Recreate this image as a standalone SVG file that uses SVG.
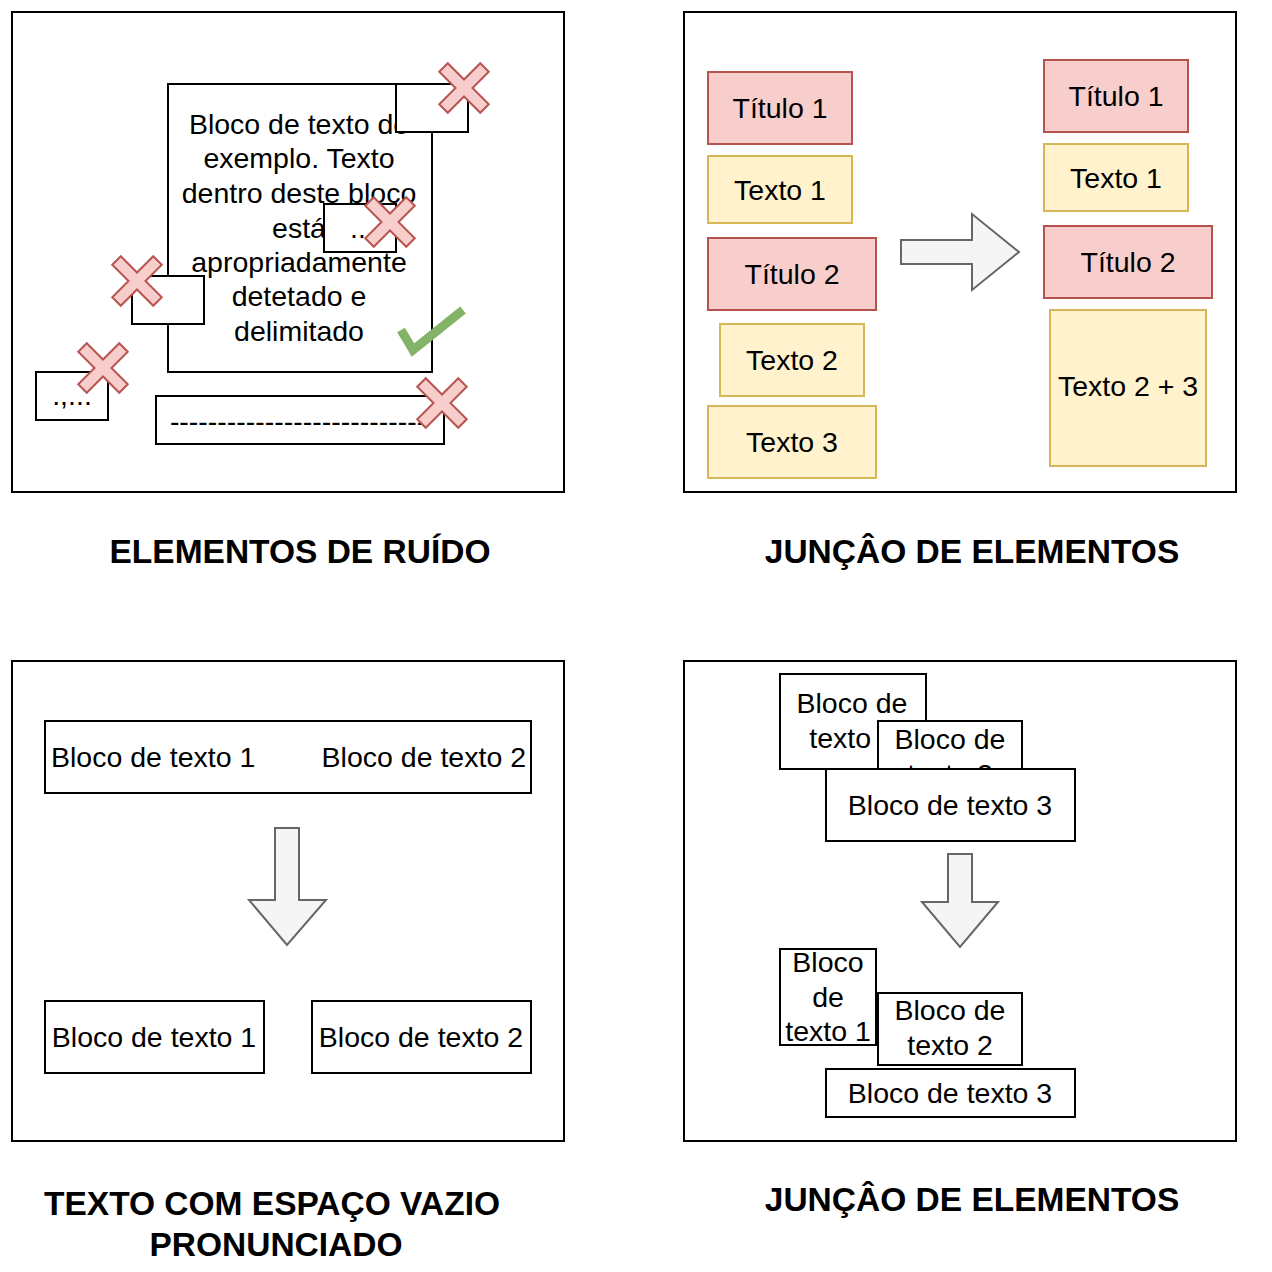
<svg xmlns="http://www.w3.org/2000/svg" width="1272" height="1272" viewBox="0 0 1272 1272">
<style>
text{font-family:"Liberation Sans",Arial,sans-serif;font-size:28.5px;fill:#000;text-anchor:middle}
.title{font-weight:bold;font-size:33.5px}
.panel{fill:none;stroke:#000;stroke-width:2}
.box{fill:#fff;stroke:#000;stroke-width:2}
.red{fill:#f8cecc;stroke:#b85450;stroke-width:2}
.yel{fill:#fff2cc;stroke:#d6b656;stroke-width:2}
.arrow{fill:#f5f5f5;stroke:#666;stroke-width:2}
.x{fill:#f8cecc;stroke:#b85450;stroke-width:2}
</style>
<defs>
<path id="cross" class="x" d="M-6,-29 L6,-29 L6,-6 L29,-6 L29,6 L6,6 L6,29 L-6,29 L-6,6 L-29,6 L-29,-6 L-6,-6 Z" transform="rotate(45)"/>
</defs>
<rect width="1272" height="1272" fill="#fff"/>

<!-- Panels -->
<rect id="panel1" class="panel" x="12" y="12" width="552" height="480"/>
<rect id="panel2" class="panel" x="684" y="12" width="552" height="480"/>
<rect id="panel3" class="panel" x="12" y="661" width="552" height="480"/>
<rect id="panel4" class="panel" x="684" y="661" width="552" height="480"/>

<!-- Panel 1 -->
<g id="mainBlock">
<rect class="box" x="168" y="84" width="264" height="288"/>
<text x="299" y="134">Bloco de texto de</text>
<text x="299" y="168">exemplo. Texto</text>
<text x="299" y="203">dentro deste bloco</text>
<text x="299" y="238">está</text>
<text x="299" y="272">apropriadamente</text>
<text x="299" y="306">detetado e</text>
<text x="299" y="341">delimitado</text>
</g>
<g id="noise1"><rect class="box" x="396" y="84" width="72" height="48"/></g>
<g id="noise2"><rect class="box" x="324" y="204" width="72" height="48"/><text x="358" y="238">..</text></g>
<g id="noise3"><rect class="box" x="132" y="276" width="72" height="48"/></g>
<g id="noise4"><rect class="box" x="36" y="372" width="72" height="48"/><text x="72" y="405">.,...</text></g>
<g id="noise5"><rect class="box" x="156" y="396" width="288" height="48"/><text x="298" y="431">---------------------------</text></g>
<g id="crosses">
<use href="#cross" transform="translate(464,88)"/>
<use href="#cross" transform="translate(390,222)"/>
<use href="#cross" transform="translate(137,281)"/>
<use href="#cross" transform="translate(103,368)"/>
<use href="#cross" transform="translate(442,403)"/>
</g>
<g id="check"><polyline points="401,330 413,350 463,310" fill="none" stroke="#82b366" stroke-width="9"/></g>
<text class="title" x="300" y="563">ELEMENTOS DE RUÍDO</text>

<!-- Panel 2 -->
<g id="l_titulo1"><rect class="red" x="708" y="72" width="144" height="72"/><text x="780" y="118">Título 1</text></g>
<g id="l_texto1"><rect class="yel" x="708" y="156" width="144" height="67"/><text x="780" y="200">Texto 1</text></g>
<g id="l_titulo2"><rect class="red" x="708" y="238" width="168" height="72"/><text x="792" y="284">Título 2</text></g>
<g id="l_texto2"><rect class="yel" x="720" y="324" width="144" height="72"/><text x="792" y="370">Texto 2</text></g>
<g id="l_texto3"><rect class="yel" x="708" y="406" width="168" height="72"/><text x="792" y="452">Texto 3</text></g>
<g id="r_titulo1"><rect class="red" x="1044" y="60" width="144" height="72"/><text x="1116" y="106">Título 1</text></g>
<g id="r_texto1"><rect class="yel" x="1044" y="144" width="144" height="67"/><text x="1116" y="188">Texto 1</text></g>
<g id="r_titulo2"><rect class="red" x="1044" y="226" width="168" height="72"/><text x="1128" y="272">Título 2</text></g>
<g id="r_texto23"><rect class="yel" x="1050" y="310" width="156" height="156"/><text x="1128" y="396">Texto 2 + 3</text></g>
<text class="title" x="972" y="563">JUNÇÂO DE ELEMENTOS</text>

<!-- Panel 3 -->
<g id="wide"><rect class="box" x="45" y="721" width="486" height="72"/>
<text x="51" y="767" style="text-anchor:start">Bloco de texto 1</text>
<text x="526" y="767" style="text-anchor:end">Bloco de texto 2</text></g>
<g id="b3_1"><rect class="box" x="45" y="1001" width="219" height="72"/><text x="154" y="1047">Bloco de texto 1</text></g>
<g id="b3_2"><rect class="box" x="312" y="1001" width="219" height="72"/><text x="421" y="1047">Bloco de texto 2</text></g>
<text class="title" x="272" y="1215">TEXTO COM ESPAÇO VAZIO</text>
<text class="title" x="276" y="1256">PRONUNCIADO</text>

<!-- Panel 4 -->
<g id="b4_a"><rect class="box" x="780" y="674" width="146" height="95"/><text x="852" y="713">Bloco de</text><text x="852" y="748">texto 1</text></g>
<g id="b4_b"><rect class="box" x="878" y="721" width="144" height="72"/><text x="950" y="749">Bloco de</text><text x="950" y="784">texto 2</text></g>
<g id="b4_c"><rect class="box" x="826" y="769" width="249" height="72"/><text x="950" y="815">Bloco de texto 3</text></g>
<g id="b4_d"><rect class="box" x="780" y="949" width="96" height="96"/><text x="828" y="972">Bloco</text><text x="828" y="1007">de</text><text x="828" y="1041">texto 1</text></g>
<g id="b4_e"><rect class="box" x="878" y="993" width="144" height="72"/><text x="950" y="1020">Bloco de</text><text x="950" y="1055">texto 2</text></g>
<g id="b4_f"><rect class="box" x="826" y="1069" width="249" height="48"/><text x="950" y="1103">Bloco de texto 3</text></g>
<text class="title" x="972" y="1211">JUNÇÂO DE ELEMENTOS</text>

<g id="connectors">
<polygon class="arrow" points="901,240 972,240 972,214 1019,252 972,290 972,264 901,264"/>
<polygon class="arrow" points="275,828 299,828 299,900 326,900 287,945 249,900 275,900"/>
<polygon class="arrow" points="948,854 972,854 972,902 998,902 960,947 922,902 948,902"/>
</g>
</svg>
